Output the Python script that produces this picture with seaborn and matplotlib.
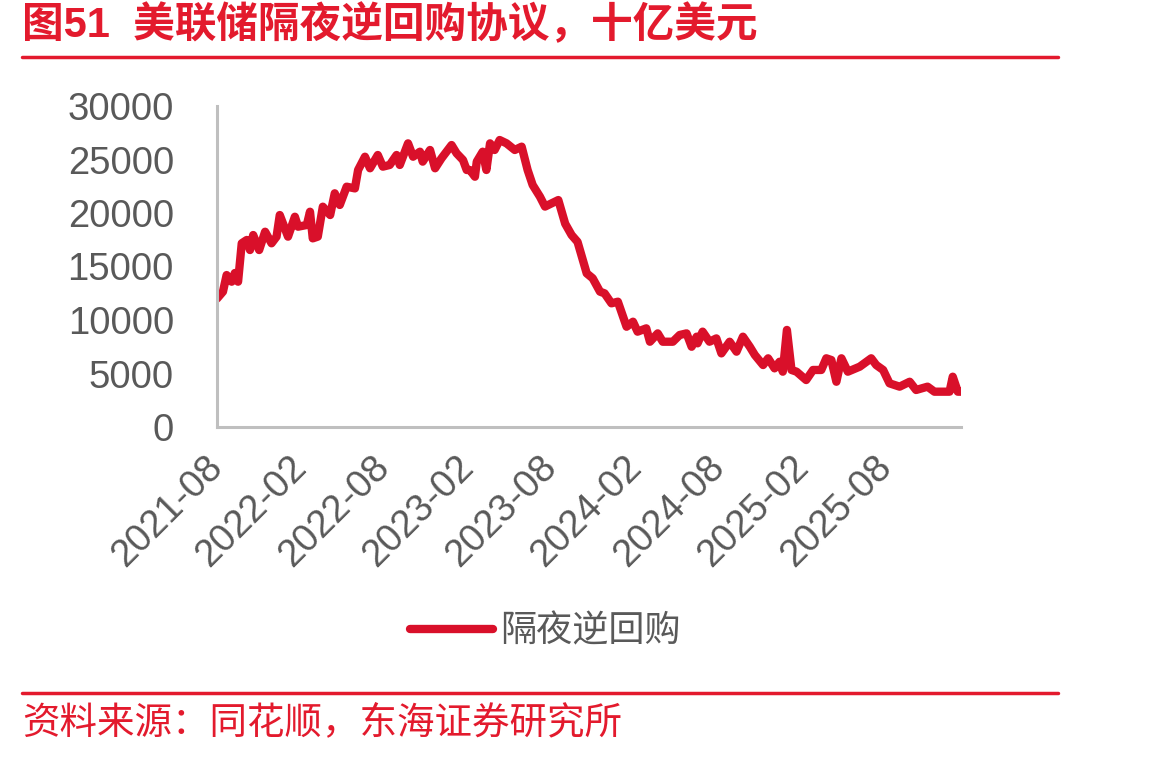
import matplotlib
matplotlib.use("Agg")
import matplotlib.pyplot as plt
import seaborn as sns
import pandas as pd
import numpy as np
from matplotlib.lines import Line2D

dates = [
    "2021-08-01", "2021-08-14", "2021-08-22", "2021-09-02", "2021-09-09", "2021-09-16",
    "2021-09-24", "2021-10-05", "2021-10-12", "2021-10-19", "2021-11-01", "2021-11-14",
    "2021-11-28", "2021-12-09", "2021-12-16", "2022-01-03", "2022-01-18", "2022-01-25",
    "2022-02-13", "2022-02-20", "2022-02-26", "2022-03-09", "2022-03-20", "2022-04-05",
    "2022-04-15", "2022-04-26", "2022-05-11", "2022-05-29", "2022-06-05", "2022-06-20",
    "2022-07-01", "2022-07-18", "2022-07-29", "2022-08-13", "2022-08-28", "2022-09-04",
    "2022-09-22", "2022-10-03", "2022-10-18", "2022-10-24", "2022-11-09", "2022-11-20",
    "2022-12-04", "2022-12-26", "2023-01-06", "2023-01-20", "2023-01-28", "2023-02-04",
    "2023-02-15", "2023-02-19", "2023-03-04", "2023-03-12", "2023-03-20", "2023-03-30",
    "2023-04-10", "2023-04-25", "2023-05-13", "2023-05-28", "2023-06-10", "2023-06-21",
    "2023-07-07", "2023-07-18", "2023-08-16", "2023-08-31", "2023-09-14", "2023-09-27",
    "2023-10-17", "2023-10-30", "2023-11-15", "2023-11-25", "2023-12-10", "2023-12-24",
    "2024-01-12", "2024-01-26", "2024-02-05", "2024-02-24", "2024-03-03", "2024-03-20",
    "2024-03-31", "2024-04-22", "2024-05-07", "2024-05-22", "2024-06-02", "2024-06-13",
    "2024-06-15", "2024-06-26", "2024-07-11", "2024-07-26", "2024-08-06", "2024-08-24",
    "2024-09-08", "2024-09-22", "2024-10-07", "2024-10-18", "2024-11-05", "2024-11-16",
    "2024-11-30", "2024-12-11", "2024-12-18", "2024-12-27", "2025-01-06", "2025-01-17",
    "2025-02-07", "2025-02-22", "2025-03-12", "2025-03-23", "2025-04-03", "2025-04-14",
    "2025-04-25", "2025-05-09", "2025-06-04", "2025-06-29", "2025-07-10", "2025-07-25",
    "2025-08-08", "2025-08-30", "2025-09-21", "2025-10-05", "2025-10-30", "2025-11-14",
    "2025-12-17", "2025-12-24", "2026-01-04", "2026-01-11",
]
values = [
    12000, 12650, 14200, 13580, 14390, 13580,
    17170, 17480, 16540, 17940, 16540, 18250,
    17170, 17790, 19810, 17790, 19650, 18720,
    18880, 20120, 17630, 17790, 20590, 19810,
    21840, 20750, 22460, 22300, 24020, 25260,
    24180, 25420, 24330, 24490, 25420, 24490,
    26510, 25260, 25730, 24800, 25890, 24180,
    25110, 26350, 25580, 24950, 24020, 24020,
    23390, 24800, 25730, 24020, 26510, 25890,
    26820, 26510, 25890, 26200, 24020, 22620,
    21520, 20600, 21210, 19000, 17940, 17300,
    14360, 13900, 12650, 12490, 11560, 11710,
    9370, 9840, 8910, 9220, 7970, 8750,
    7970, 7970, 8600, 8750, 7500, 8440,
    7820, 8910, 7970, 8280, 6880, 7970,
    7040, 8440, 7500, 6730, 5790, 6420,
    5480, 6100, 5170, 9070, 5330, 5170,
    4390, 5330, 5330, 6420, 6260, 4230,
    6420, 5170, 5640, 6420, 5790, 5330,
    4080, 3770, 4230, 3460, 3770, 3300,
    3300, 4700, 3300, 3300,
]
tick_dates = ["2021-08-01", "2022-02-01", "2022-08-01", "2023-02-01", "2023-08-01",
              "2024-02-01", "2024-08-01", "2025-02-01", "2025-08-01"]
tick_labels = ["2021-08", "2022-02", "2022-08", "2023-02", "2023-08",
               "2024-02", "2024-08", "2025-02", "2025-08"]
y_ticks = [0, 5000, 10000, 15000, 20000, 25000, 30000]
series_name = "隔夜逆回购"
title = "图51  美联储隔夜逆回购协议，十亿美元"
source = "资料来源：同花顺，东海证券研究所"

sns.set_theme(style="white")
plt.rcParams['font.family'] = ['Liberation Sans', 'Noto Sans CJK SC', 'DejaVu Sans']

RED_LINE = "#D9102A"
RED_TEXT = "#E31A2D"
GRAY = "#BFBFBF"
TXT = "#595959"

df = pd.DataFrame({"date": pd.to_datetime(dates), "value": values, "series": series_name})

fig = plt.figure(figsize=(11.56, 7.57), dpi=100)
ax = fig.add_axes([217/1156, 1-427/757, (961-217)/1156, (427-106)/757])

sns.lineplot(data=df, x="date", y="value", hue="series", palette=[RED_LINE],
             linewidth=6, ax=ax, legend=False)

ax.set_xlim(df["date"].min(), df["date"].max())
ax.set_ylim(0, 30000)
ax.set_yticks(y_ticks)
ax.set_yticklabels([str(v) for v in y_ticks])
ax.set_xticks(pd.to_datetime(tick_dates))
ax.set_xticklabels(tick_labels, rotation=45, ha="right", va="center",
                   rotation_mode="anchor")
ax.set_xlabel("")
ax.set_ylabel("")

for s in ["top", "right"]:
    ax.spines[s].set_visible(False)
for s in ["left", "bottom"]:
    ax.spines[s].set_color(GRAY)
    ax.spines[s].set_linewidth(2.2)
ax.tick_params(axis="both", colors=GRAY, labelcolor=TXT, labelsize=27.5,
               length=7, width=2.2, direction="out")
ax.tick_params(axis="y", pad=24)
ax.tick_params(axis="x", pad=18)
ax.grid(False)

# legend
h = [Line2D([0], [0], color=RED_LINE, linewidth=6)]
fig.legend(h, [series_name], loc="center", bbox_to_anchor=(545/1156, 1-632/757),
           frameon=False, fontsize=26, labelcolor=TXT, handlelength=2.3,
           handletextpad=0.2)

# title and decorations
fig.text(22/1156, 1-25/757, title, color=RED_TEXT, fontsize=30, fontweight="bold",
         ha="left", va="center")
fig.add_artist(Line2D([22/1156, 1058/1156], [1-57/757, 1-57/757], color=RED_TEXT,
                      linewidth=2.5, transform=fig.transFigure))
fig.add_artist(Line2D([22/1156, 1058/1156], [1-693/757, 1-693/757], color=RED_TEXT,
                      linewidth=2.5, transform=fig.transFigure))
fig.text(22/1156, 1-723/757, source, color=RED_TEXT, fontsize=27,
         ha="left", va="center")

fig.savefig("out.png", dpi=100, facecolor="white")
